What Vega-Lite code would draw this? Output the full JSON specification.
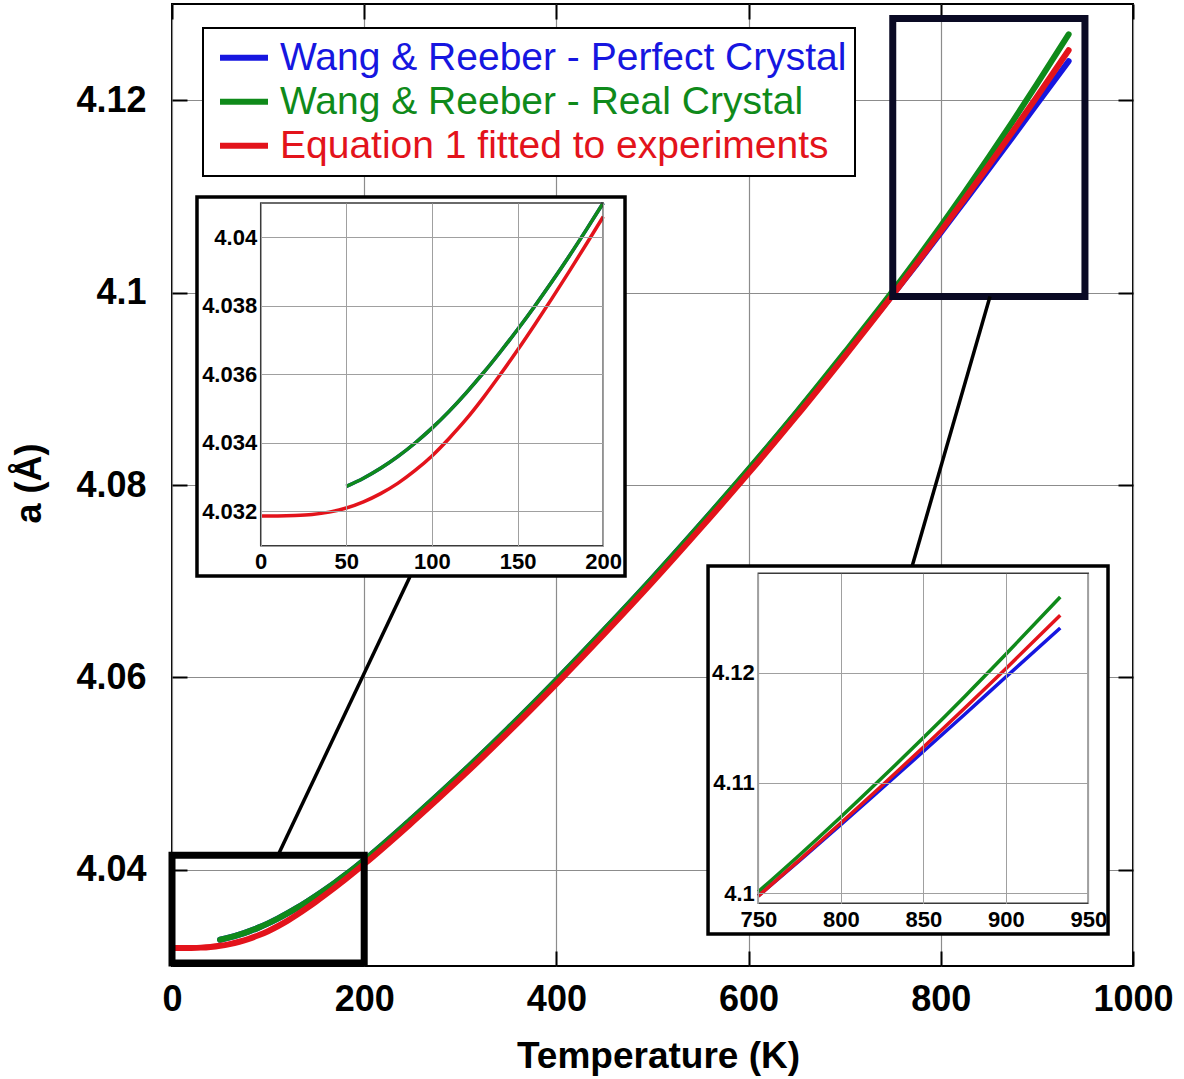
{
  "$schema": "https://vega.github.io/schema/vega-lite/v6.json",
  "width": 961,
  "height": 962,
  "autosize": {"type": "none"},
  "padding": {"left": 172, "top": 4, "right": 51, "bottom": 113},
  "background": "white",
  "config": {
    "font": "Liberation Sans",
    "view": {"stroke": "black", "strokeWidth": 2},
    "axis": {
      "labelFont": "Liberation Sans",
      "labelFontWeight": "bold",
      "labelColor": "black",
      "titleFont": "Liberation Sans",
      "titleColor": "black",
      "labelFlush": false,
      "labelOverlap": false
    }
  },
  "datasets": {
    "lattice": [
      {"T": 50, "a": 4.03273, "series": "Wang & Reeber - Perfect Crystal"},
      {"T": 60, "a": 4.03297, "series": "Wang & Reeber - Perfect Crystal"},
      {"T": 70, "a": 4.03326, "series": "Wang & Reeber - Perfect Crystal"},
      {"T": 80, "a": 4.0336, "series": "Wang & Reeber - Perfect Crystal"},
      {"T": 90, "a": 4.03399, "series": "Wang & Reeber - Perfect Crystal"},
      {"T": 100, "a": 4.03443, "series": "Wang & Reeber - Perfect Crystal"},
      {"T": 110, "a": 4.03492, "series": "Wang & Reeber - Perfect Crystal"},
      {"T": 120, "a": 4.03546, "series": "Wang & Reeber - Perfect Crystal"},
      {"T": 130, "a": 4.03604, "series": "Wang & Reeber - Perfect Crystal"},
      {"T": 140, "a": 4.03666, "series": "Wang & Reeber - Perfect Crystal"},
      {"T": 150, "a": 4.03731, "series": "Wang & Reeber - Perfect Crystal"},
      {"T": 160, "a": 4.03799, "series": "Wang & Reeber - Perfect Crystal"},
      {"T": 170, "a": 4.0387, "series": "Wang & Reeber - Perfect Crystal"},
      {"T": 180, "a": 4.03944, "series": "Wang & Reeber - Perfect Crystal"},
      {"T": 190, "a": 4.04021, "series": "Wang & Reeber - Perfect Crystal"},
      {"T": 200, "a": 4.041, "series": "Wang & Reeber - Perfect Crystal"},
      {"T": 250, "a": 4.04534, "series": "Wang & Reeber - Perfect Crystal"},
      {"T": 300, "a": 4.0499, "series": "Wang & Reeber - Perfect Crystal"},
      {"T": 350, "a": 4.0547, "series": "Wang & Reeber - Perfect Crystal"},
      {"T": 400, "a": 4.05972, "series": "Wang & Reeber - Perfect Crystal"},
      {"T": 450, "a": 4.06494, "series": "Wang & Reeber - Perfect Crystal"},
      {"T": 500, "a": 4.07031, "series": "Wang & Reeber - Perfect Crystal"},
      {"T": 550, "a": 4.07589, "series": "Wang & Reeber - Perfect Crystal"},
      {"T": 600, "a": 4.0816, "series": "Wang & Reeber - Perfect Crystal"},
      {"T": 650, "a": 4.08751, "series": "Wang & Reeber - Perfect Crystal"},
      {"T": 700, "a": 4.0936, "series": "Wang & Reeber - Perfect Crystal"},
      {"T": 750, "a": 4.09978, "series": "Wang & Reeber - Perfect Crystal"},
      {"T": 775, "a": 4.10297, "series": "Wang & Reeber - Perfect Crystal"},
      {"T": 800, "a": 4.10622, "series": "Wang & Reeber - Perfect Crystal"},
      {"T": 825, "a": 4.10953, "series": "Wang & Reeber - Perfect Crystal"},
      {"T": 850, "a": 4.11285, "series": "Wang & Reeber - Perfect Crystal"},
      {"T": 875, "a": 4.11621, "series": "Wang & Reeber - Perfect Crystal"},
      {"T": 900, "a": 4.1196, "series": "Wang & Reeber - Perfect Crystal"},
      {"T": 933, "a": 4.12405, "series": "Wang & Reeber - Perfect Crystal"},

      {"T": 50, "a": 4.03273, "series": "Wang & Reeber - Real Crystal"},
      {"T": 60, "a": 4.03297, "series": "Wang & Reeber - Real Crystal"},
      {"T": 70, "a": 4.03326, "series": "Wang & Reeber - Real Crystal"},
      {"T": 80, "a": 4.0336, "series": "Wang & Reeber - Real Crystal"},
      {"T": 90, "a": 4.03399, "series": "Wang & Reeber - Real Crystal"},
      {"T": 100, "a": 4.03443, "series": "Wang & Reeber - Real Crystal"},
      {"T": 110, "a": 4.03492, "series": "Wang & Reeber - Real Crystal"},
      {"T": 120, "a": 4.03546, "series": "Wang & Reeber - Real Crystal"},
      {"T": 130, "a": 4.03604, "series": "Wang & Reeber - Real Crystal"},
      {"T": 140, "a": 4.03666, "series": "Wang & Reeber - Real Crystal"},
      {"T": 150, "a": 4.03731, "series": "Wang & Reeber - Real Crystal"},
      {"T": 160, "a": 4.03799, "series": "Wang & Reeber - Real Crystal"},
      {"T": 170, "a": 4.0387, "series": "Wang & Reeber - Real Crystal"},
      {"T": 180, "a": 4.03944, "series": "Wang & Reeber - Real Crystal"},
      {"T": 190, "a": 4.04021, "series": "Wang & Reeber - Real Crystal"},
      {"T": 200, "a": 4.041, "series": "Wang & Reeber - Real Crystal"},
      {"T": 250, "a": 4.04534, "series": "Wang & Reeber - Real Crystal"},
      {"T": 300, "a": 4.0499, "series": "Wang & Reeber - Real Crystal"},
      {"T": 350, "a": 4.0547, "series": "Wang & Reeber - Real Crystal"},
      {"T": 400, "a": 4.05972, "series": "Wang & Reeber - Real Crystal"},
      {"T": 450, "a": 4.06494, "series": "Wang & Reeber - Real Crystal"},
      {"T": 500, "a": 4.07031, "series": "Wang & Reeber - Real Crystal"},
      {"T": 550, "a": 4.07589, "series": "Wang & Reeber - Real Crystal"},
      {"T": 600, "a": 4.08163, "series": "Wang & Reeber - Real Crystal"},
      {"T": 650, "a": 4.08758, "series": "Wang & Reeber - Real Crystal"},
      {"T": 700, "a": 4.09378, "series": "Wang & Reeber - Real Crystal"},
      {"T": 750, "a": 4.10015, "series": "Wang & Reeber - Real Crystal"},
      {"T": 775, "a": 4.10348, "series": "Wang & Reeber - Real Crystal"},
      {"T": 800, "a": 4.10692, "series": "Wang & Reeber - Real Crystal"},
      {"T": 825, "a": 4.11047, "series": "Wang & Reeber - Real Crystal"},
      {"T": 850, "a": 4.11409, "series": "Wang & Reeber - Real Crystal"},
      {"T": 875, "a": 4.11782, "series": "Wang & Reeber - Real Crystal"},
      {"T": 900, "a": 4.12166, "series": "Wang & Reeber - Real Crystal"},
      {"T": 933, "a": 4.12685, "series": "Wang & Reeber - Real Crystal"},

      {"T": 0, "a": 4.03187, "series": "Equation 1 fitted to experiments"},
      {"T": 10, "a": 4.03187, "series": "Equation 1 fitted to experiments"},
      {"T": 20, "a": 4.03188, "series": "Equation 1 fitted to experiments"},
      {"T": 30, "a": 4.03191, "series": "Equation 1 fitted to experiments"},
      {"T": 40, "a": 4.03198, "series": "Equation 1 fitted to experiments"},
      {"T": 50, "a": 4.0321, "series": "Equation 1 fitted to experiments"},
      {"T": 60, "a": 4.03228, "series": "Equation 1 fitted to experiments"},
      {"T": 70, "a": 4.03252, "series": "Equation 1 fitted to experiments"},
      {"T": 80, "a": 4.03282, "series": "Equation 1 fitted to experiments"},
      {"T": 90, "a": 4.03319, "series": "Equation 1 fitted to experiments"},
      {"T": 100, "a": 4.03362, "series": "Equation 1 fitted to experiments"},
      {"T": 110, "a": 4.03413, "series": "Equation 1 fitted to experiments"},
      {"T": 120, "a": 4.03469, "series": "Equation 1 fitted to experiments"},
      {"T": 130, "a": 4.03532, "series": "Equation 1 fitted to experiments"},
      {"T": 140, "a": 4.036, "series": "Equation 1 fitted to experiments"},
      {"T": 150, "a": 4.03671, "series": "Equation 1 fitted to experiments"},
      {"T": 160, "a": 4.03745, "series": "Equation 1 fitted to experiments"},
      {"T": 170, "a": 4.03821, "series": "Equation 1 fitted to experiments"},
      {"T": 180, "a": 4.03899, "series": "Equation 1 fitted to experiments"},
      {"T": 190, "a": 4.03979, "series": "Equation 1 fitted to experiments"},
      {"T": 200, "a": 4.0406, "series": "Equation 1 fitted to experiments"},
      {"T": 250, "a": 4.04494, "series": "Equation 1 fitted to experiments"},
      {"T": 300, "a": 4.0495, "series": "Equation 1 fitted to experiments"},
      {"T": 350, "a": 4.0543, "series": "Equation 1 fitted to experiments"},
      {"T": 400, "a": 4.05932, "series": "Equation 1 fitted to experiments"},
      {"T": 450, "a": 4.06454, "series": "Equation 1 fitted to experiments"},
      {"T": 500, "a": 4.06991, "series": "Equation 1 fitted to experiments"},
      {"T": 550, "a": 4.07549, "series": "Equation 1 fitted to experiments"},
      {"T": 600, "a": 4.08123, "series": "Equation 1 fitted to experiments"},
      {"T": 650, "a": 4.08718, "series": "Equation 1 fitted to experiments"},
      {"T": 700, "a": 4.09338, "series": "Equation 1 fitted to experiments"},
      {"T": 750, "a": 4.09975, "series": "Equation 1 fitted to experiments"},
      {"T": 775, "a": 4.10303, "series": "Equation 1 fitted to experiments"},
      {"T": 800, "a": 4.10637, "series": "Equation 1 fitted to experiments"},
      {"T": 825, "a": 4.10977, "series": "Equation 1 fitted to experiments"},
      {"T": 850, "a": 4.11324, "series": "Equation 1 fitted to experiments"},
      {"T": 875, "a": 4.11677, "series": "Equation 1 fitted to experiments"},
      {"T": 900, "a": 4.12036, "series": "Equation 1 fitted to experiments"},
      {"T": 933, "a": 4.12519, "series": "Equation 1 fitted to experiments"}
    ],
    "zoomBoxes": [
      {"box": "low", "T0": 0, "T1": 200, "a0": 4.0303, "a1": 4.0415},
      {"box": "high", "T0": 750, "T1": 950, "a0": 4.0996, "a1": 4.1285}
    ],
    "links": [
      {"box": "low", "T0": 110.3, "a0": 4.0415, "T1": 247.7, "a1": 4.0705},
      {"box": "high", "T0": 851.2, "a0": 4.0996, "T1": 770.0, "a1": 4.0715}
    ],
    "panels": [
      {"box": "low", "T0": 26.0, "T1": 471.4, "a0": 4.07054, "a1": 4.10994},
      {"box": "high", "T0": 557.8, "T1": 974.0, "a0": 4.03333, "a1": 4.07158}
    ]
  },
  "layer": [
    {
      "layer": [
        {
          "data": {"name": "lattice"},
          "mark": {"type": "line", "strokeWidth": 6, "interpolate": "monotone", "strokeCap": "round"},
          "encoding": {
            "x": {
              "field": "T", "type": "quantitative",
              "scale": {"domain": [0, 1000], "nice": false, "zero": false},
              "axis": {
                "orient": "bottom", "values": [0, 200, 400, 600, 800, 1000], "format": "d",
                "domain": false, "grid": true, "gridColor": "#8c8c8c", "gridWidth": 1.2,
                "tickSize": -15, "tickColor": "black", "tickWidth": 2,
                "labelPadding": 31, "labelFontSize": 36,
                "title": "Temperature (K)", "titleFontSize": 37, "titleFontWeight": "bold",
                "titleX": 486, "titleY": 72, "titleBaseline": "top", "titleAlign": "center"
              }
            },
            "y": {
              "field": "a", "type": "quantitative",
              "scale": {"domain": [4.03, 4.13], "nice": false, "zero": false},
              "axis": {
                "orient": "left", "values": [4.04, 4.06, 4.08, 4.1, 4.12], "format": "~g",
                "domain": false, "grid": true, "gridColor": "#8c8c8c", "gridWidth": 1.2,
                "tickSize": -15, "tickColor": "black", "tickWidth": 2,
                "labelPadding": 41, "labelFontSize": 36,
                "title": "a (Å)", "titleFontSize": 36, "titleFontWeight": "bold",
                "titleAngle": -90, "titleX": -143, "titleY": 479,
                "titleBaseline": "middle", "titleAlign": "center"
              }
            },
            "color": {
              "field": "series", "type": "nominal",
              "scale": {
                "domain": ["Wang & Reeber - Perfect Crystal", "Wang & Reeber - Real Crystal", "Equation 1 fitted to experiments"],
                "range": ["#1616e0", "#0f8a1a", "#e3131b"]
              },
              "legend": {
                "orient": "none", "legendX": 31, "legendY": 24, "title": null,
                "strokeColor": "black", "fillColor": "white", "padding": 8,
                "labelFont": "Liberation Sans", "labelFontSize": 39, "labelOffset": 9, "labelLimit": 1000,
                "symbolType": "stroke", "symbolSize": 2304, "symbolStrokeWidth": 6, "symbolOffset": 6,
                "rowPadding": 0, "clipHeight": 43.5,
                "encode": {
                  "labels": {"update": {"fill": {"scale": "color", "field": "value"}}},
                  "legend": {"update": {"strokeWidth": {"value": 2}}}
                }
              }
            }
          }
        },
        {
          "data": {"name": "lattice"},
          "mark": {"type": "point", "opacity": 0},
          "encoding": {
            "x": {
              "field": "T", "type": "quantitative",
              "axis": {"orient": "top", "values": [0, 200, 400, 600, 800, 1000], "labels": false, "grid": false, "domain": false,
                       "tickSize": -15, "tickColor": "black", "tickWidth": 2, "title": null}
            },
            "y": {
              "field": "a", "type": "quantitative",
              "axis": {"orient": "right", "values": [4.04, 4.06, 4.08, 4.1, 4.12], "labels": false, "grid": false, "domain": false,
                       "tickSize": -15, "tickColor": "black", "tickWidth": 2, "title": null}
            }
          }
        },
        {
          "data": {"name": "zoomBoxes"},
          "mark": {"type": "rect", "filled": false, "strokeWidth": 7},
          "encoding": {
            "x": {"field": "T0", "type": "quantitative", "axis": null},
            "x2": {"field": "T1"},
            "y": {"field": "a0", "type": "quantitative", "axis": null},
            "y2": {"field": "a1"},
            "stroke": {"field": "box", "type": "nominal", "scale": {"domain": ["low", "high"], "range": ["#000000", "#0a0a24"]}, "legend": null}
          }
        },
        {
          "data": {"name": "links"},
          "mark": {"type": "rule", "color": "black", "strokeWidth": 3.5},
          "encoding": {
            "x": {"field": "T0", "type": "quantitative", "axis": null},
            "x2": {"field": "T1"},
            "y": {"field": "a0", "type": "quantitative", "axis": null},
            "y2": {"field": "a1"}
          }
        },
        {
          "data": {"name": "panels"},
          "mark": {"type": "rect", "fill": "white", "stroke": "black", "strokeWidth": 3.5},
          "encoding": {
            "x": {"field": "T0", "type": "quantitative", "axis": null},
            "x2": {"field": "T1"},
            "y": {"field": "a0", "type": "quantitative", "axis": null},
            "y2": {"field": "a1"}
          }
        }
      ],
      "resolve": {"axis": {"x": "independent", "y": "independent"}}
    },
    {
      "layer": [
        {
          "data": {"name": "lattice"},
          "transform": [{"filter": "datum.T <= 200"}],
          "mark": {"type": "line", "strokeWidth": 3.5, "interpolate": "monotone"},
          "encoding": {
            "x": {
              "field": "T", "type": "quantitative",
              "scale": {"domain": [0, 200], "range": [88.7, 431.2], "nice": false, "zero": false},
              "axis": {"orient": "bottom", "offset": -420.3, "values": [0, 50, 100, 150, 200], "format": "d",
                       "grid": false, "domain": false, "ticks": false, "labelPadding": 6, "labelFontSize": 22,
                       "title": null, "zindex": 1}
            },
            "y": {
              "field": "a", "type": "quantitative",
              "scale": {"domain": [4.031, 4.041], "range": [541.7, 199], "nice": false, "zero": false},
              "axis": {"orient": "left", "offset": -88.7, "values": [4.032, 4.034, 4.036, 4.038, 4.04], "format": "~g",
                       "grid": true, "gridColor": "#a0a0a0", "gridWidth": 1, "domain": false, "ticks": false,
                       "labelPadding": 4, "labelFontSize": 22, "title": null, "zindex": 1}
            },
            "color": {"field": "series", "type": "nominal", "legend": null}
          }
        },
        {
          "data": {"name": "lattice"},
          "transform": [{"filter": "datum.T <= 200"}],
          "mark": {"type": "point", "opacity": 0},
          "encoding": {
            "x": {
              "field": "T", "type": "quantitative",
              "axis": {"orient": "top", "values": [0, 50, 100, 150, 200], "labels": false, "ticks": false, "domain": false,
                       "grid": true, "gridColor": "#a0a0a0", "gridWidth": 1, "title": null, "zindex": 1}
            },
            "y": {"field": "a", "type": "quantitative", "axis": null}
          }
        },
        {
          "data": {"values": [{"T0": 0, "T1": 200, "a0": 4.031, "a1": 4.041}]},
          "mark": {"type": "rect", "filled": false, "stroke": "#3a3a3a", "strokeWidth": 1.5},
          "encoding": {
            "x": {"field": "T0", "type": "quantitative", "axis": null},
            "x2": {"field": "T1"},
            "y": {"field": "a0", "type": "quantitative", "axis": null},
            "y2": {"field": "a1"}
          }
        }
      ],
      "resolve": {"axis": {"x": "independent", "y": "independent"}}
    },
    {
      "layer": [
        {
          "data": {"name": "lattice"},
          "transform": [{"filter": "datum.T >= 750"}],
          "mark": {"type": "line", "strokeWidth": 3.5, "interpolate": "monotone"},
          "encoding": {
            "x": {
              "field": "T", "type": "quantitative",
              "scale": {"domain": [750, 950], "range": [586.3, 916.3], "nice": false, "zero": false},
              "axis": {"orient": "bottom", "offset": -62.7, "values": [750, 800, 850, 900, 950], "format": "d",
                       "grid": false, "domain": false, "ticks": false, "labelPadding": 6, "labelFontSize": 22,
                       "title": null, "zindex": 1}
            },
            "y": {
              "field": "a", "type": "quantitative",
              "scale": {"domain": [4.0991, 4.129], "range": [899.3, 569.3], "nice": false, "zero": false},
              "axis": {"orient": "left", "offset": -586.3, "values": [4.1, 4.11, 4.12], "format": "~g",
                       "grid": true, "gridColor": "#a0a0a0", "gridWidth": 1, "domain": false, "ticks": false,
                       "labelPadding": 4, "labelFontSize": 22, "title": null, "zindex": 1}
            },
            "color": {"field": "series", "type": "nominal", "legend": null}
          }
        },
        {
          "data": {"name": "lattice"},
          "transform": [{"filter": "datum.T >= 750"}],
          "mark": {"type": "point", "opacity": 0},
          "encoding": {
            "x": {
              "field": "T", "type": "quantitative",
              "axis": {"orient": "top", "values": [750, 800, 850, 900, 950], "labels": false, "ticks": false, "domain": false,
                       "grid": true, "gridColor": "#a0a0a0", "gridWidth": 1, "title": null, "zindex": 1}
            },
            "y": {"field": "a", "type": "quantitative", "axis": null}
          }
        },
        {
          "data": {"values": [{"T0": 750, "T1": 950, "a0": 4.0991, "a1": 4.129}]},
          "mark": {"type": "rect", "filled": false, "stroke": "#3a3a3a", "strokeWidth": 1.5},
          "encoding": {
            "x": {"field": "T0", "type": "quantitative", "axis": null},
            "x2": {"field": "T1"},
            "y": {"field": "a0", "type": "quantitative", "axis": null},
            "y2": {"field": "a1"}
          }
        }
      ],
      "resolve": {"axis": {"x": "independent", "y": "independent"}}
    }
  ],
  "resolve": {"scale": {"x": "independent", "y": "independent"}}
}
